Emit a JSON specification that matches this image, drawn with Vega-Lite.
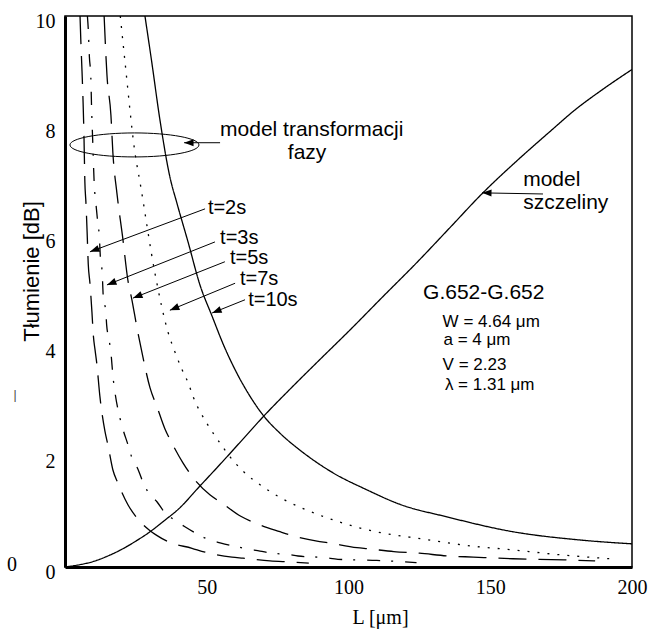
{
  "$schema": "https://vega.github.io/schema/vega-lite/v6.json",
  "width": 567,
  "height": 551,
  "autosize": {"type": "none"},
  "padding": {"left": 65, "top": 16, "right": 18, "bottom": 64},
  "background": "white",
  "config": {
    "view": {"stroke": "black", "strokeWidth": 1.5},
    "axis": {"grid": false, "ticks": false, "domainColor": "black", "domainWidth": 3, "labelColor": "black", "titleColor": "black", "titleFontWeight": "normal"},
    "axisX": {"labelFont": "Liberation Serif", "labelFontSize": 20, "labelPadding": 10, "labelFlush": false,
      "titleFont": "Liberation Serif", "titleFontSize": 20, "titleX": 315, "titleY": 50, "titleBaseline": "middle", "titleAlign": "center"},
    "axisY": {"labelFont": "Liberation Serif", "labelFontSize": 20, "labelPadding": 10, "labelOffset": 5, "labelFlush": false,
      "titleFont": "Liberation Sans", "titleFontSize": 22, "titleX": -34, "titleY": 255, "titleAngle": -90, "titleBaseline": "middle", "titleAlign": "center"}
  },
  "datasets": {
    "curves": [
      {"s": "sz", "L": 0, "A": 0}, {"s": "sz", "L": 5, "A": 0.04}, {"s": "sz", "L": 10, "A": 0.1}, {"s": "sz", "L": 16, "A": 0.22}, {"s": "sz", "L": 20, "A": 0.32}, {"s": "sz", "L": 25, "A": 0.47}, {"s": "sz", "L": 30, "A": 0.64}, {"s": "sz", "L": 35, "A": 0.84}, {"s": "sz", "L": 40, "A": 1.05}, {"s": "sz", "L": 47.6, "A": 1.47}, {"s": "sz", "L": 55, "A": 1.88}, {"s": "sz", "L": 61.7, "A": 2.26}, {"s": "sz", "L": 70.5, "A": 2.76}, {"s": "sz", "L": 80, "A": 3.26}, {"s": "sz", "L": 90, "A": 3.77}, {"s": "sz", "L": 100.5, "A": 4.3}, {"s": "sz", "L": 112, "A": 4.9}, {"s": "sz", "L": 124, "A": 5.52}, {"s": "sz", "L": 135.8, "A": 6.16}, {"s": "sz", "L": 147.4, "A": 6.79}, {"s": "sz", "L": 160, "A": 7.4}, {"s": "sz", "L": 171, "A": 7.9}, {"s": "sz", "L": 180, "A": 8.3}, {"s": "sz", "L": 190, "A": 8.68}, {"s": "sz", "L": 200, "A": 9.03},
      {"s": "t10", "L": 28.2, "A": 10}, {"s": "t10", "L": 30.5, "A": 9.2}, {"s": "t10", "L": 33.5, "A": 8.11}, {"s": "t10", "L": 37, "A": 7.08}, {"s": "t10", "L": 39.5, "A": 6.6}, {"s": "t10", "L": 43.4, "A": 5.9}, {"s": "t10", "L": 47.6, "A": 5.12}, {"s": "t10", "L": 51.9, "A": 4.55}, {"s": "t10", "L": 56, "A": 4.02}, {"s": "t10", "L": 60, "A": 3.58}, {"s": "t10", "L": 65, "A": 3.12}, {"s": "t10", "L": 69.8, "A": 2.76}, {"s": "t10", "L": 76, "A": 2.42}, {"s": "t10", "L": 82.9, "A": 2.12}, {"s": "t10", "L": 94.5, "A": 1.71}, {"s": "t10", "L": 106.5, "A": 1.4}, {"s": "t10", "L": 118, "A": 1.14}, {"s": "t10", "L": 134.7, "A": 0.91}, {"s": "t10", "L": 158, "A": 0.64}, {"s": "t10", "L": 181.7, "A": 0.49}, {"s": "t10", "L": 200, "A": 0.42},
      {"s": "t7", "L": 19.5, "A": 10}, {"s": "t7", "L": 21.2, "A": 9.15}, {"s": "t7", "L": 24.7, "A": 7.51}, {"s": "t7", "L": 26.5, "A": 6.97}, {"s": "t7", "L": 31.7, "A": 5.34}, {"s": "t7", "L": 36.3, "A": 4.27}, {"s": "t7", "L": 38.8, "A": 3.9}, {"s": "t7", "L": 41.3, "A": 3.58}, {"s": "t7", "L": 43.4, "A": 3.35}, {"s": "t7", "L": 45.2, "A": 3.09}, {"s": "t7", "L": 50, "A": 2.61}, {"s": "t7", "L": 54, "A": 2.3}, {"s": "t7", "L": 58.2, "A": 2.0}, {"s": "t7", "L": 62.8, "A": 1.74}, {"s": "t7", "L": 70, "A": 1.45}, {"s": "t7", "L": 77, "A": 1.23}, {"s": "t7", "L": 83.6, "A": 1.07}, {"s": "t7", "L": 96.6, "A": 0.82}, {"s": "t7", "L": 109.7, "A": 0.64}, {"s": "t7", "L": 126, "A": 0.51}, {"s": "t7", "L": 147, "A": 0.36}, {"s": "t7", "L": 154, "A": 0.33}, {"s": "t7", "L": 175, "A": 0.22}, {"s": "t7", "L": 192, "A": 0.15},
      {"s": "t5", "L": 13.8, "A": 10}, {"s": "t5", "L": 14.8, "A": 8.93}, {"s": "t5", "L": 16.2, "A": 8.2}, {"s": "t5", "L": 16.9, "A": 7.51}, {"s": "t5", "L": 18.3, "A": 6.79}, {"s": "t5", "L": 20.3, "A": 6.0}, {"s": "t5", "L": 22.2, "A": 5.2}, {"s": "t5", "L": 23.6, "A": 4.85}, {"s": "t5", "L": 25.4, "A": 4.34}, {"s": "t5", "L": 27.2, "A": 3.88}, {"s": "t5", "L": 30, "A": 3.25}, {"s": "t5", "L": 32.5, "A": 2.9}, {"s": "t5", "L": 35.3, "A": 2.5}, {"s": "t5", "L": 37.7, "A": 2.25}, {"s": "t5", "L": 41.6, "A": 1.89}, {"s": "t5", "L": 45.2, "A": 1.62}, {"s": "t5", "L": 51.1, "A": 1.31}, {"s": "t5", "L": 55.4, "A": 1.16}, {"s": "t5", "L": 62, "A": 0.92}, {"s": "t5", "L": 67, "A": 0.8}, {"s": "t5", "L": 75.8, "A": 0.64}, {"s": "t5", "L": 79.4, "A": 0.58}, {"s": "t5", "L": 88.9, "A": 0.47}, {"s": "t5", "L": 92.8, "A": 0.44}, {"s": "t5", "L": 103, "A": 0.35}, {"s": "t5", "L": 107, "A": 0.33}, {"s": "t5", "L": 116, "A": 0.28}, {"s": "t5", "L": 125, "A": 0.25}, {"s": "t5", "L": 135, "A": 0.2}, {"s": "t5", "L": 144, "A": 0.18}, {"s": "t5", "L": 158, "A": 0.15}, {"s": "t5", "L": 176, "A": 0.13}, {"s": "t5", "L": 187, "A": 0.11},
      {"s": "t3", "L": 7.9, "A": 10}, {"s": "t3", "L": 8.2, "A": 9.77}, {"s": "t3", "L": 8.6, "A": 9.26}, {"s": "t3", "L": 9.1, "A": 8.9}, {"s": "t3", "L": 9.4, "A": 8.29}, {"s": "t3", "L": 9.8, "A": 7.7}, {"s": "t3", "L": 10.3, "A": 6.96}, {"s": "t3", "L": 10.9, "A": 6.6}, {"s": "t3", "L": 11.4, "A": 6.33}, {"s": "t3", "L": 12.1, "A": 6.0}, {"s": "t3", "L": 12.5, "A": 5.6}, {"s": "t3", "L": 13.1, "A": 5.36}, {"s": "t3", "L": 13.5, "A": 4.91}, {"s": "t3", "L": 14.4, "A": 4.63}, {"s": "t3", "L": 14.7, "A": 4.39}, {"s": "t3", "L": 15.3, "A": 4.18}, {"s": "t3", "L": 16.1, "A": 3.94}, {"s": "t3", "L": 17.0, "A": 3.42}, {"s": "t3", "L": 17.6, "A": 3.18}, {"s": "t3", "L": 19.4, "A": 2.7}, {"s": "t3", "L": 20.5, "A": 2.49}, {"s": "t3", "L": 22.2, "A": 2.22}, {"s": "t3", "L": 23.5, "A": 2.0}, {"s": "t3", "L": 25.7, "A": 1.78}, {"s": "t3", "L": 27.2, "A": 1.58}, {"s": "t3", "L": 29.3, "A": 1.36}, {"s": "t3", "L": 32.5, "A": 1.18}, {"s": "t3", "L": 35.3, "A": 0.98}, {"s": "t3", "L": 38.8, "A": 0.85}, {"s": "t3", "L": 42.3, "A": 0.73}, {"s": "t3", "L": 46.6, "A": 0.6}, {"s": "t3", "L": 51.1, "A": 0.49}, {"s": "t3", "L": 54.7, "A": 0.44}, {"s": "t3", "L": 64.2, "A": 0.33}, {"s": "t3", "L": 68.8, "A": 0.29}, {"s": "t3", "L": 73, "A": 0.25}, {"s": "t3", "L": 78.3, "A": 0.23}, {"s": "t3", "L": 82.2, "A": 0.2}, {"s": "t3", "L": 91.7, "A": 0.17}, {"s": "t3", "L": 96.3, "A": 0.14}, {"s": "t3", "L": 110, "A": 0.12}, {"s": "t3", "L": 124, "A": 0.08},
      {"s": "t2", "L": 5.3, "A": 10}, {"s": "t2", "L": 5.6, "A": 9.53}, {"s": "t2", "L": 6.0, "A": 9.0}, {"s": "t2", "L": 6.4, "A": 8.4}, {"s": "t2", "L": 6.7, "A": 7.8}, {"s": "t2", "L": 7.0, "A": 7.0}, {"s": "t2", "L": 7.4, "A": 6.6}, {"s": "t2", "L": 7.8, "A": 6.08}, {"s": "t2", "L": 8.2, "A": 5.5}, {"s": "t2", "L": 8.8, "A": 5.15}, {"s": "t2", "L": 9.5, "A": 4.63}, {"s": "t2", "L": 10.0, "A": 4.2}, {"s": "t2", "L": 10.6, "A": 3.94}, {"s": "t2", "L": 11.2, "A": 3.7}, {"s": "t2", "L": 12.3, "A": 3.1}, {"s": "t2", "L": 14.1, "A": 2.46}, {"s": "t2", "L": 15.2, "A": 2.2}, {"s": "t2", "L": 16.9, "A": 1.76}, {"s": "t2", "L": 18.7, "A": 1.52}, {"s": "t2", "L": 22.2, "A": 1.13}, {"s": "t2", "L": 25.4, "A": 0.89}, {"s": "t2", "L": 30, "A": 0.66}, {"s": "t2", "L": 32.5, "A": 0.57}, {"s": "t2", "L": 36.3, "A": 0.46}, {"s": "t2", "L": 44.8, "A": 0.34}, {"s": "t2", "L": 49.4, "A": 0.27}, {"s": "t2", "L": 58.9, "A": 0.18}, {"s": "t2", "L": 62.8, "A": 0.16}, {"s": "t2", "L": 72.3, "A": 0.11}, {"s": "t2", "L": 80, "A": 0.09}, {"s": "t2", "L": 86, "A": 0.07}
    ],
    "arrows": [
      {"L": 49.4, "A": 6.5, "L2": 8.8, "A2": 5.72},
      {"L": 52.9, "A": 5.9, "L2": 14.8, "A2": 5.12},
      {"L": 56.4, "A": 5.54, "L2": 24.0, "A2": 4.88},
      {"L": 60.0, "A": 5.15, "L2": 37.0, "A2": 4.66},
      {"L": 63.5, "A": 4.85, "L2": 51.9, "A2": 4.61},
      {"L": 54.7, "A": 7.7, "L2": 42.0, "A2": 7.7},
      {"L": 168.6, "A": 6.77, "L2": 147.1, "A2": 6.79}
    ],
    "notes": [
      {"txt": "model transformacji", "L": 54.7, "A": 7.93},
      {"txt": "model", "L": 161.6, "A": 7.02},
      {"txt": "szczeliny", "L": 161.6, "A": 6.61},
      {"txt": "G.652-G.652", "L": 126.3, "A": 4.97}
    ],
    "tlabels": [
      {"txt": "t=2s", "L": 50.4, "A": 6.52},
      {"txt": "t=3s", "L": 54.7, "A": 5.97},
      {"txt": "t=5s", "L": 58.2, "A": 5.61},
      {"txt": "t=7s", "L": 61.7, "A": 5.23},
      {"txt": "t=10s", "L": 64.6, "A": 4.85}
    ],
    "params": [
      {"txt": "W = 4.64 μm", "L": 133.2, "A": 4.45},
      {"txt": "a = 4 μm", "L": 133.5, "A": 4.12},
      {"txt": "V = 2.23", "L": 133.2, "A": 3.67},
      {"txt": "λ = 1.31 μm", "L": 134.0, "A": 3.3}
    ]
  },
  "layer": [
    {
      "data": {"name": "curves"},
      "mark": {"type": "line", "color": "black", "strokeWidth": 1.3, "clip": true, "interpolate": "monotone"},
      "encoding": {
        "x": {"field": "L", "type": "quantitative", "title": "L [μm]", "scale": {"domain": [0, 200], "nice": false, "zero": false}, "axis": {"values": [50, 100, 150, 200]}},
        "y": {"field": "A", "type": "quantitative", "title": "Tłumienie [dB]", "scale": {"domain": [0, 10], "nice": false}, "axis": {"values": [0, 2, 4, 6, 8, 10]}},
        "detail": {"field": "s"},
        "strokeDash": {"field": "s", "type": "nominal", "legend": null,
          "scale": {"domain": ["sz", "t10", "t7", "t5", "t3", "t2"], "range": [[1, 0], [1, 0], [2, 8], [28, 12], [13, 11, 2, 12], [28, 12]]}}
      }
    },
    {
      "data": {"name": "arrows"},
      "mark": {"type": "rule", "color": "black", "strokeWidth": 1},
      "encoding": {
        "x": {"field": "L", "type": "quantitative", "title": "L [μm]"},
        "y": {"field": "A", "type": "quantitative", "title": "Tłumienie [dB]"},
        "x2": {"field": "L2"},
        "y2": {"field": "A2"}
      }
    },
    {
      "data": {"name": "arrows"},
      "transform": [{"calculate": "atan2((datum.L2 - datum.L) * 2.835, (datum.A2 - datum.A) * 55.1) * 180 / PI", "as": "ang"}],
      "mark": {"type": "point", "shape": "M0,0L-0.75,2L0.75,2Z", "size": 90, "filled": true, "color": "black", "opacity": 1},
      "encoding": {
        "x": {"field": "L2", "type": "quantitative", "title": "L [μm]"},
        "y": {"field": "A2", "type": "quantitative", "title": "Tłumienie [dB]"},
        "angle": {"field": "ang", "type": "quantitative", "scale": null}
      }
    },
    {
      "data": {"values": [{"L": 24.5, "A": 7.66}]},
      "mark": {"type": "point", "shape": "M-1,0C-1,-0.103 -0.552,-0.186 0,-0.186C0.552,-0.186 1,-0.103 1,0C1,0.103 0.552,0.186 0,0.186C-0.552,0.186 -1,0.103 -1,0Z", "size": 16641, "filled": false, "color": "black", "strokeWidth": 1, "opacity": 1},
      "encoding": {
        "x": {"field": "L", "type": "quantitative", "title": "L [μm]"},
        "y": {"field": "A", "type": "quantitative", "title": "Tłumienie [dB]"}
      }
    },
    {
      "data": {"name": "notes"},
      "mark": {"type": "text", "font": "Liberation Sans", "fontSize": 21, "align": "left", "baseline": "middle", "color": "black"},
      "encoding": {
        "x": {"field": "L", "type": "quantitative", "title": "L [μm]"},
        "y": {"field": "A", "type": "quantitative", "title": "Tłumienie [dB]"},
        "text": {"field": "txt"}
      }
    },
    {
      "data": {"name": "tlabels"},
      "mark": {"type": "text", "font": "Liberation Sans", "fontSize": 20, "align": "left", "baseline": "middle", "color": "black"},
      "encoding": {
        "x": {"field": "L", "type": "quantitative", "title": "L [μm]"},
        "y": {"field": "A", "type": "quantitative", "title": "Tłumienie [dB]"},
        "text": {"field": "txt"}
      }
    },
    {
      "data": {"values": [{"txt": "fazy", "L": 85.4, "A": 7.51}]},
      "mark": {"type": "text", "font": "Liberation Sans", "fontSize": 21, "align": "center", "baseline": "middle", "color": "black"},
      "encoding": {
        "x": {"field": "L", "type": "quantitative", "title": "L [μm]"},
        "y": {"field": "A", "type": "quantitative", "title": "Tłumienie [dB]"},
        "text": {"field": "txt"}
      }
    },
    {
      "data": {"name": "params"},
      "mark": {"type": "text", "font": "Liberation Sans", "fontSize": 17, "align": "left", "baseline": "middle", "color": "black"},
      "encoding": {
        "x": {"field": "L", "type": "quantitative", "title": "L [μm]"},
        "y": {"field": "A", "type": "quantitative", "title": "Tłumienie [dB]"},
        "text": {"field": "txt"}
      }
    },
    {
      "data": {"values": [{"txt": "0", "L": -18.7, "A": 0.03}]},
      "mark": {"type": "text", "font": "Liberation Serif", "fontSize": 20, "align": "center", "baseline": "middle", "color": "black"},
      "encoding": {
        "x": {"field": "L", "type": "quantitative", "title": "L [μm]"},
        "y": {"field": "A", "type": "quantitative", "title": "Tłumienie [dB]"},
        "text": {"field": "txt"}
      }
    },
    {
      "data": {"values": [{"txt": "|", "L": -17.6, "A": 3.12}]},
      "mark": {"type": "text", "font": "Liberation Sans", "fontSize": 12, "align": "center", "baseline": "middle", "color": "#444"},
      "encoding": {
        "x": {"field": "L", "type": "quantitative", "title": "L [μm]"},
        "y": {"field": "A", "type": "quantitative", "title": "Tłumienie [dB]"},
        "text": {"field": "txt"}
      }
    }
  ]
}
